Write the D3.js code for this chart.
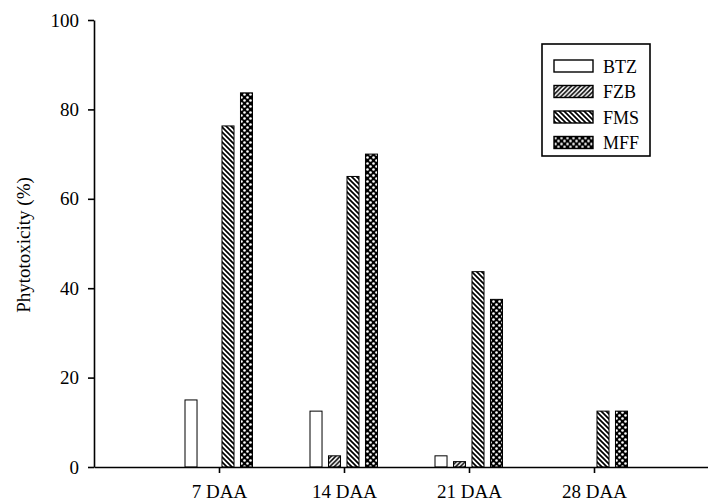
<!DOCTYPE html>
<html>
<head>
<meta charset="utf-8">
<script src="https://cdn.jsdelivr.net/npm/d3@7"></script>
<style>
  body { margin: 0; background: #fff; }
  text { font-family: "Liberation Serif", "Times New Roman", serif; fill: #000; }
</style>
</head>
<body>
<script>
const width = 708,
      height = 504;

// data
const days = ["7 DAA", "14 DAA", "21 DAA", "28 DAA"];
const series = ["BTZ", "FZB", "FMS", "MFF"];
const btz = [15, 12.5, 2.5, 0];
const fzb = [0, 2.5, 1.2, 0];
const fms = [76.3, 65, 43.7, 12.5];
const mff = [83.7, 70, 37.5, 12.5];
const yTicks = [0, 20, 40, 60, 80, 100];

const values = { BTZ: btz, FZB: fzb, FMS: fms, MFF: mff };
const fills = { BTZ: "#fff", FZB: "url(#fzb)", FMS: "url(#fms)", MFF: "url(#mff)" };

const svg = d3.select("body")
    .append("svg")
    .attr("width", width)
    .attr("height", height);

// hatch patterns
const defs = svg.append("defs");

const pFzb = defs.append("pattern")
    .attr("id", "fzb")
    .attr("patternUnits", "userSpaceOnUse")
    .attr("width", 4.5).attr("height", 4.5);
pFzb.append("rect").attr("width", 4.5).attr("height", 4.5).attr("fill", "#fff");
pFzb.append("path")
    .attr("d", "M-1,1 l2,-2 M0,4.5 l4.5,-4.5 M3.5,5.5 l2,-2")
    .attr("stroke", "#000").attr("stroke-width", 1.5);

const pFms = defs.append("pattern")
    .attr("id", "fms")
    .attr("patternUnits", "userSpaceOnUse")
    .attr("width", 5).attr("height", 5);
pFms.append("rect").attr("width", 5).attr("height", 5).attr("fill", "#fff");
pFms.append("path")
    .attr("d", "M-1,4 l2,2 M0,0 l5,5 M4,-1 l2,2")
    .attr("stroke", "#000").attr("stroke-width", 1.7);

const pMff = defs.append("pattern")
    .attr("id", "mff")
    .attr("patternUnits", "userSpaceOnUse")
    .attr("width", 6).attr("height", 6);
pMff.append("rect").attr("width", 6).attr("height", 6).attr("fill", "#000");
pMff.append("circle").attr("cx", 1.5).attr("cy", 1.5).attr("r", 1.3).attr("fill", "#fff");
pMff.append("circle").attr("cx", 4.5).attr("cy", 4.5).attr("r", 1.3).attr("fill", "#fff");

// scales
const x = d3.scaleLinear()
    .domain([0, 5])
    .range([94, 719]);

const xs = d3.scaleBand()
    .domain(series)
    .range([-34, 33.5])
    .paddingInner(0.35)
    .paddingOuter(0);

const y = d3.scaleLinear()
    .domain([0, 100])
    .range([467, 20]);

// bars
const rows = [];
days.forEach((d, i) => {
  series.forEach(s => {
    if (values[s][i] > 0) rows.push({ day: i, s: s, v: values[s][i] });
  });
});

svg.append("g")
    .selectAll("rect")
    .data(rows)
    .enter().append("rect")
    .attr("x", d => x(d.day + 1) + xs(d.s))
    .attr("y", d => y(d.v))
    .attr("width", xs.bandwidth())
    .attr("height", d => y(0) - y(d.v))
    .attr("fill", d => fills[d.s])
    .attr("stroke", "#000")
    .attr("stroke-width", 1);

// axes
svg.append("g")
    .attr("transform", `translate(${x(0)},0)`)
    .call(d3.axisLeft(y)
      .tickValues(yTicks)
      .tickSize(6)
      .tickSizeOuter(0)
      .tickPadding(9));

svg.append("g")
    .attr("transform", `translate(0,${y(0)})`)
    .call(d3.axisBottom(x)
      .tickValues([1, 2, 3, 4])
      .tickFormat(d => days[d - 1])
      .tickSize(6)
      .tickSizeOuter(0)
      .tickPadding(12));

svg.selectAll(".domain, .tick line")
    .attr("stroke", "#000")
    .attr("stroke-width", 1.6);

svg.selectAll(".tick text")
    .style("font-family", "'Liberation Serif', serif")
    .style("font-size", "19px")
    .attr("fill", "#000");

svg.append("text")
    .attr("transform", "translate(30,245) rotate(-90)")
    .attr("text-anchor", "middle")
    .style("font-size", "19px")
    .text("Phytotoxicity (%)");

// legend
const legend = svg.append("g")
    .attr("transform", "translate(542,44)");

legend.append("rect")
    .attr("width", 108)
    .attr("height", 112)
    .attr("fill", "#fff")
    .attr("stroke", "#000")
    .attr("stroke-width", 1.6);

const item = legend.selectAll("g.item")
    .data(series)
    .enter().append("g")
    .attr("class", "item")
    .attr("transform", (d, i) => `translate(12,${16 + i * 25.5})`);

item.append("rect")
    .attr("width", 39)
    .attr("height", 12)
    .attr("fill", d => fills[d])
    .attr("stroke", "#000")
    .attr("stroke-width", 1.4);

item.append("text")
    .attr("x", 49)
    .attr("y", 12.5)
    .style("font-size", "18px")
    .text(d => d);
</script>
</body>
</html>
